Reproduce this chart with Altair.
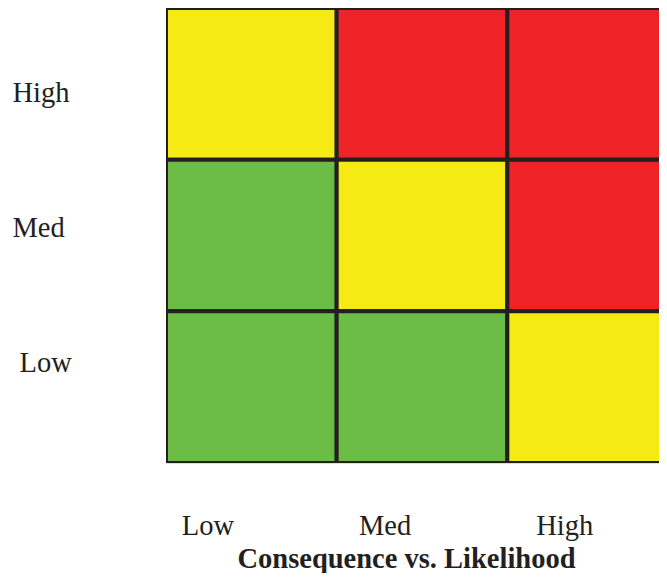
import altair as alt
import pandas as pd

levels_x = ["Low", "Med", "High"]
levels_y = ["High", "Med", "Low"]
consequence = ["Low", "Med", "High", "Low", "Med", "High", "Low", "Med", "High"]
likelihood = ["High", "High", "High", "Med", "Med", "Med", "Low", "Low", "Low"]
risk = ["Medium", "High", "High", "Low", "Medium", "High", "Low", "Low", "Medium"]
risk_levels = ["Low", "Medium", "High"]
risk_colors = ["#6BBD45", "#F5EA14", "#EE2227"]

df = pd.DataFrame({"consequence": consequence, "likelihood": likelihood, "risk": risk})

ink = "#231F20"
font = "Liberation Serif"

chart = alt.Chart(df).mark_rect(stroke=ink, strokeWidth=4, clip=True).encode(
    x=alt.X(
        "consequence:N", sort=levels_x,
        scale=alt.Scale(paddingInner=0, paddingOuter=0, range=[0, 512]),
        axis=alt.Axis(
            orient="bottom", domain=False, ticks=False, tickSize=0, labelAngle=0,
            labelFont=font, labelFontSize=28.5, labelColor=ink,
            labelAlign="left", labelBaseline="alphabetic", labelPadding=71,
            labelOffset=alt.expr("datum.value == 'Low' ? -69.5 : datum.value == 'Med' ? -63 : -56.5"),
            title="Consequence vs. Likelihood", titleFont=font, titleFontSize=28.5,
            titleFontWeight="bold", titleColor=ink, titleX=240, titleY=104,
            titleAlign="center", titleBaseline="alphabetic",
        ),
    ),
    y=alt.Y(
        "likelihood:N", sort=levels_y,
        scale=alt.Scale(paddingInner=0, paddingOuter=0),
        axis=alt.Axis(
            orient="left", domain=False, ticks=False, tickSize=0, title=None,
            labelFont=font, labelFontSize=28.5, labelColor=ink,
            labelAlign="left", labelBaseline="alphabetic",
            labelPadding=alt.expr("datum.value == 'Low' ? 147 : 154"),
            labelOffset=alt.expr("datum.value == 'High' ? 18 : datum.value == 'Med' ? 1 : -15"),
        ),
    ),
    color=alt.Color("risk:N", scale=alt.Scale(domain=risk_levels, range=risk_colors), legend=None),
).properties(
    width=493, height=455,
    autosize=alt.AutoSizeParams(type="none"),
    padding={"left": 158, "top": 0, "right": 0, "bottom": 110},
).configure_view(stroke=None).configure(background="white")

chart.save("out.html", embed_options={"renderer": "svg", "actions": False})
